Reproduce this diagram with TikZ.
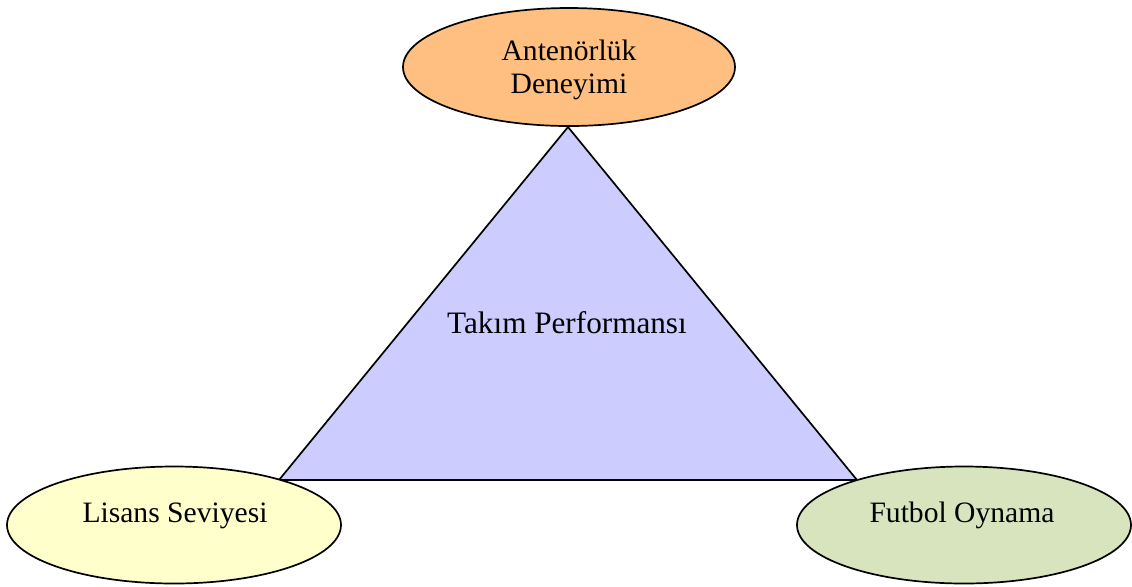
\documentclass[tikz,border=0pt]{standalone}
\usepackage{fontspec}
\setmainfont{Liberation Serif}
\usetikzlibrary{shapes.geometric}
\definecolor{orangefill}{RGB}{255,191,128}
\definecolor{yellowfill}{RGB}{255,255,204}
\definecolor{greenfill}{RGB}{215,228,189}
\definecolor{trifill}{RGB}{204,204,255}
\begin{document}
\begin{tikzpicture}[x=0.5pt,y=-0.5pt,
  bubble/.style={ellipse,draw=black,line width=0.85pt,inner sep=0pt,minimum width=167pt,minimum height=58.5pt},
  lbl/.style={font=\fontsize{14.8}{16.6}\selectfont,align=center,inner sep=0pt},
  ]
\useasboundingbox (0,0) rectangle (1132,586);
\coordinate (apex) at (568,127);
\coordinate (bl) at (279,480);
\coordinate (br) at (857,480);
\filldraw[fill=trifill,draw=black,line width=0.85pt,line join=miter] (apex) -- (bl) -- (br) -- cycle;
\node[bubble,fill=orangefill,minimum width=166pt,minimum height=59pt] (top) at (569,67) {};
\node[bubble,fill=yellowfill] (left) at (174,525) {};
\node[bubble,fill=greenfill] (right) at (964,525) {};
\node[lbl] (toptext) at (569,70) {Antenörlük\\Deneyimi};
\node[lbl,anchor=base] (lefttext) at (175,522) {Lisans Seviyesi};
\node[lbl,anchor=base] (righttext) at (962,522) {Futbol Oynama};
\node[lbl,font=\fontsize{15.6}{17}\selectfont,anchor=base] (center) at (567,333) {Takım Performansı};
\end{tikzpicture}
\end{document}
